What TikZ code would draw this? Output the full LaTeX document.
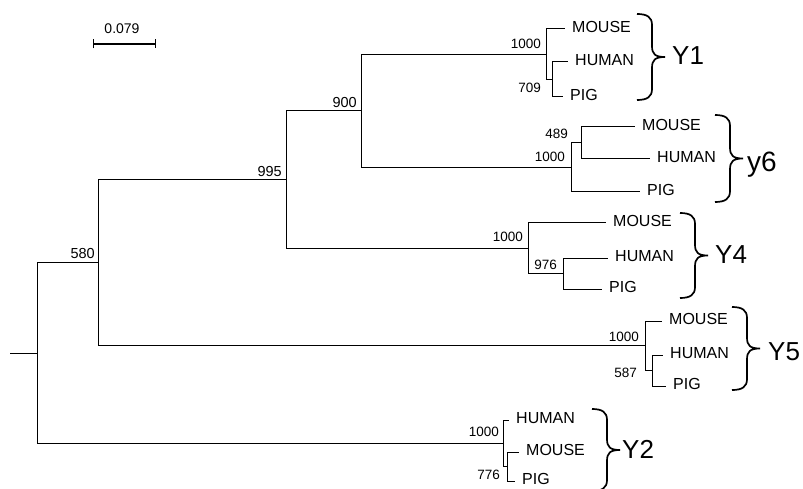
\documentclass[tikz,border=0pt]{standalone}
\usepackage{fontspec}
\setmainfont{Liberation Sans}
\usetikzlibrary{arrows.meta,positioning}

\tikzset{
  branch/.style={line width=1pt, line cap=rect},
  leaf/.style={anchor=west, inner xsep=8pt, inner ysep=0pt, text depth=5pt,
               font=\fontsize{16}{18}\selectfont},
  boot/.style={anchor=south east, inner sep=0pt, font=\fontsize{13.5}{15}\selectfont},
  bigboot/.style={boot, font=\fontsize{14.5}{16}\selectfont},
  clade/.style={anchor=base west, inner sep=0pt, font=\fontsize{26}{30}\selectfont},
  bracel/.style={line width=1.7pt},
}

% curly brace of a clade: x, top, bottom
\newcommand{\cladebrace}[3]{%
  \pgfmathsetmacro{\bmid}{(#2+#3)/2}%
  \draw[bracel] (#1,#2) .. controls (#1+10,#2) and (#1+15,#2+3) .. (#1+15,#2+11)
    -- (#1+15,\bmid-11) .. controls (#1+15,\bmid-3) and (#1+18,\bmid) .. (#1+28,\bmid)
    .. controls (#1+18,\bmid) and (#1+15,\bmid+3) .. (#1+15,\bmid+11)
    -- (#1+15,#3-11) .. controls (#1+15,#3-3) and (#1+10,#3) .. (#1,#3);}

\begin{document}
\begin{tikzpicture}[x=1pt, y=-1pt]
    \useasboundingbox (0,0) rectangle (803,489);

    % Scale bar
    \coordinate (sb0) at (93,44);
    \coordinate (sb1) at (156,44);
    \draw[line width=1.3pt, {Bar[width=9pt]}-{Bar[width=9pt]}] (sb0) -- (sb1);
    \node[font=\fontsize{14}{16}\selectfont] (sblab) at (122,29) {0.079};

    % Internal nodes
    \coordinate (stem) at (10,353);
    \coordinate (root) at (37,353);
    \coordinate (n580) at (98,262.7);
    \coordinate (n995) at (286,179.6);
    \coordinate (n900) at (361,110.9);
    \coordinate (y1a) at (546,54.25);
    \coordinate (y1b) at (552,79.5);
    \coordinate (y6a) at (571,167.5);
    \coordinate (y6b) at (581,143);
    \coordinate (y4a) at (528,248.25);
    \coordinate (y4b) at (563,273.5);
    \coordinate (y5a) at (645,345.75);
    \coordinate (y5b) at (652,370.5);
    \coordinate (y2a) at (503,443.25);
    \coordinate (y2b) at (507,466.5);

    % Leaves
    \node[leaf] (y1m) at (564,29) {MOUSE};
    \node[leaf] (y1h) at (567,62) {HUMAN};
    \node[leaf] (y1p) at (562,97) {PIG};
    \node[leaf] (y6m) at (634,127) {MOUSE};
    \node[leaf] (y6h) at (649,159) {HUMAN};
    \node[leaf] (y6p) at (639,192) {PIG};
    \node[leaf] (y4m) at (605,223) {MOUSE};
    \node[leaf] (y4h) at (607,258) {HUMAN};
    \node[leaf] (y4p) at (601,289) {PIG};
    \node[leaf] (y5m) at (661,321) {MOUSE};
    \node[leaf] (y5h) at (662,355) {HUMAN};
    \node[leaf] (y5p) at (665,386) {PIG};
    \node[leaf] (y2h) at (508,420) {HUMAN};
    \node[leaf] (y2m) at (518,452) {MOUSE};
    \node[leaf] (y2p) at (514,481) {PIG};

    % Branches
    \draw[branch] (stem) -- (root);
    \draw[branch] (root) |- (n580);
    \draw[branch] (root) |- (y2a);
    \draw[branch] (n580) |- (n995);
    \draw[branch] (n580) |- (y5a);
    \draw[branch] (n995) |- (n900);
    \draw[branch] (n995) |- (y4a);
    \draw[branch] (n900) |- (y1a);
    \draw[branch] (n900) |- (y6a);
    \draw[branch] (y1a) |- (y1m.west);
    \draw[branch] (y1a) |- (y1b);
    \draw[branch] (y1b) |- (y1h.west);
    \draw[branch] (y1b) |- (y1p.west);
    \draw[branch] (y6a) |- (y6b);
    \draw[branch] (y6a) |- (y6p.west);
    \draw[branch] (y6b) |- (y6m.west);
    \draw[branch] (y6b) |- (y6h.west);
    \draw[branch] (y4a) |- (y4m.west);
    \draw[branch] (y4a) |- (y4b);
    \draw[branch] (y4b) |- (y4h.west);
    \draw[branch] (y4b) |- (y4p.west);
    \draw[branch] (y5a) |- (y5m.west);
    \draw[branch] (y5a) |- (y5b);
    \draw[branch] (y5b) |- (y5h.west);
    \draw[branch] (y5b) |- (y5p.west);
    \draw[branch] (y2a) |- (y2h.west);
    \draw[branch] (y2a) |- (y2b);
    \draw[branch] (y2b) |- (y2m.west);
    \draw[branch] (y2b) |- (y2p.west);

    % Bootstrap values
    \node[bigboot] (b900) at (357,108) {900};
    \node[bigboot] (b995) at (282,177) {995};
    \node[bigboot] (b580) at (95,259) {580};
    \node[boot] (b1y1) at (541,49) {1000};
    \node[boot] (b709) at (541,93) {709};
    \node[boot] (b1y6) at (565,162) {1000};
    \node[boot] (b489) at (568,139) {489};
    \node[boot] (b1y4) at (523,242) {1000};
    \node[boot] (b976) at (557,269.5) {976};
    \node[boot] (b1y5) at (639,342) {1000};
    \node[boot] (b587) at (637,378) {587};
    \node[boot] (b1y2) at (499,437) {1000};
    \node[boot] (b776) at (500,480) {776};

    % Clade braces
    \cladebrace{637}{14}{100}
    \cladebrace{715}{115}{202}
    \cladebrace{680}{213}{298}
    \cladebrace{732}{307}{390}
    \cladebrace{592}{409}{491}
    \node[clade] (cy1) at (672,65) {Y1};
    \node[clade, font=\fontsize{28}{32}\selectfont] (cy6) at (747,172) {y6};
    \node[clade] (cy4) at (715,263) {Y4};
    \node[clade] (cy5) at (768,360) {Y5};
    \node[clade] (cy2) at (622,458) {Y2};
\end{tikzpicture}
\end{document}
